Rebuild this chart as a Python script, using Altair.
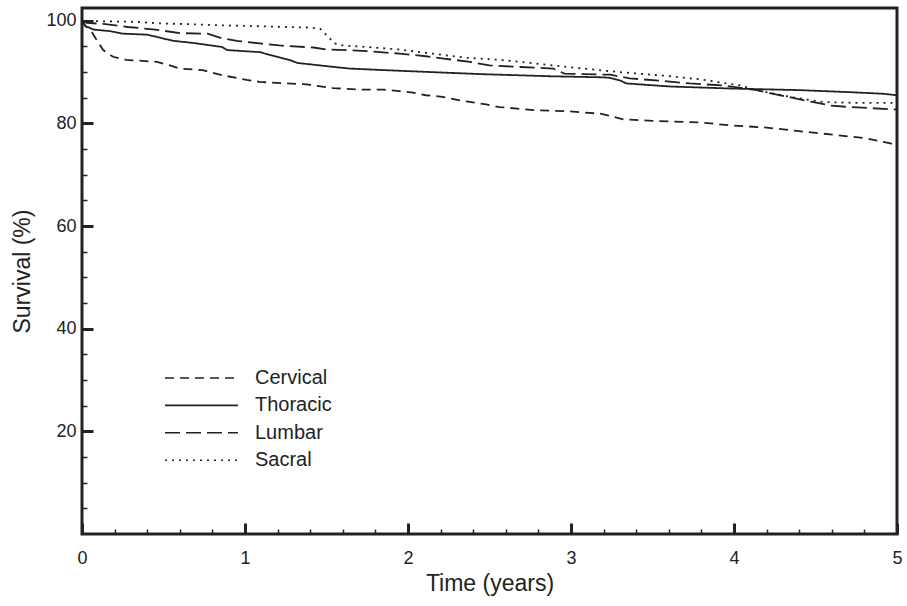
import altair as alt
import pandas as pd

# ---------------- data ----------------
series_names = ["Cervical", "Thoracic", "Lumbar", "Sacral"]

cervical_t = [0, 0.02, 0.06, 0.13, 0.19, 0.27, 0.46, 0.54, 0.60, 0.74, 0.86, 1.01, 1.09, 1.38,
              1.54, 1.71, 1.85, 1.95, 2.03, 2.11, 2.21, 2.32, 2.48, 2.56, 2.67, 2.77, 2.97,
              3.18, 3.26, 3.32, 3.50, 3.79, 3.99, 4.20, 4.40, 4.61, 4.81, 4.96, 5.0]
cervical_v = [100, 99.0, 97.8, 94.3, 93.0, 92.4, 92.0, 91.3, 90.7, 90.4, 89.4, 88.5, 88.1, 87.6,
              86.9, 86.6, 86.6, 86.3, 86.0, 85.5, 85.2, 84.5, 83.7, 83.2, 82.9, 82.6, 82.4,
              81.9, 81.3, 80.8, 80.5, 80.2, 79.6, 79.2, 78.5, 77.8, 77.1, 76.1, 75.8]

thoracic_t = [0, 0.02, 0.07, 0.17, 0.25, 0.40, 0.56, 0.68, 0.86, 0.89, 1.09, 1.28, 1.32, 1.52,
              1.64, 1.85, 2.15, 2.46, 2.67, 2.87, 3.18, 3.24, 3.30, 3.34, 3.61, 3.99, 4.40,
              4.71, 4.91, 5.0]
thoracic_v = [100, 99.0, 98.3, 98.0, 97.5, 97.3, 96.1, 95.7, 94.9, 94.3, 93.9, 92.3, 91.8, 91.1,
              90.7, 90.4, 90.0, 89.6, 89.4, 89.2, 89.0, 88.9, 88.4, 87.8, 87.2, 86.8, 86.5,
              86.1, 85.8, 85.5]

lumbar_t = [0, 0.03, 0.13, 0.28, 0.45, 0.60, 0.77, 0.85, 0.95, 1.09, 1.21, 1.42, 1.50, 1.63,
            1.75, 1.83, 1.95, 2.11, 2.23, 2.38, 2.50, 2.69, 2.89, 2.96, 3.24, 3.36, 3.59,
            3.73, 3.93, 4.14, 4.22, 4.39, 4.48, 4.59, 4.71, 4.83, 5.0]
lumbar_v = [100, 99.6, 99.4, 98.8, 98.3, 97.6, 97.5, 96.7, 96.1, 95.6, 95.2, 94.8, 94.4, 94.3,
            94.1, 93.9, 93.6, 93.1, 92.6, 92.0, 91.3, 91.0, 90.7, 89.7, 89.5, 88.8, 88.2,
            87.8, 87.4, 86.5, 85.9, 84.8, 84.2, 83.5, 83.2, 83.0, 82.7]

sacral_t = [0, 0.13, 0.33, 0.48, 0.60, 0.89, 1.01, 1.38, 1.46, 1.50, 1.55, 1.60, 1.75, 1.95,
            2.15, 2.36, 2.56, 2.75, 2.98, 3.30, 3.61, 3.79, 4.04, 4.14, 4.34, 4.54, 4.75, 5.0]
sacral_v = [100, 99.9, 99.8, 99.5, 99.4, 99.1, 99.0, 98.7, 98.5, 97.2, 95.6, 95.2, 94.9, 94.4,
            93.6, 92.8, 92.4, 91.8, 91.0, 90.0, 89.2, 88.6, 87.4, 86.5, 85.2, 84.2, 84.0, 84.0]

x_major_ticks = [0, 1, 2, 3, 4, 5]
x_minor_ticks = [0.2, 0.4, 0.6, 0.8, 1.2, 1.4, 1.6, 1.8, 2.2, 2.4, 2.6, 2.8,
                 3.2, 3.4, 3.6, 3.8, 4.2, 4.4, 4.6, 4.8]
y_major_ticks = [20, 40, 60, 80, 100]
y_minor_ticks = [5, 10, 15, 25, 30, 35, 45, 50, 55, 65, 70, 75, 85, 90, 95]

# ---------------- table ----------------
rows = []
for name, ts, vs in [("Cervical", cervical_t, cervical_v), ("Thoracic", thoracic_t, thoracic_v),
                     ("Lumbar", lumbar_t, lumbar_v), ("Sacral", sacral_t, sacral_v)]:
    for t, v in zip(ts, vs):
        rows.append({"group": name, "time": t, "survival": v})
df = pd.DataFrame(rows)

# ---------------- styling ----------------
FONT = "Liberation Sans"
INK = "#222222"
dashes = [[9, 6], [1, 0], [15, 6], [2, 5]]

x_scale = alt.Scale(domain=[0, 5], nice=False, zero=False)
y_scale = alt.Scale(domain=[0, 102.5], nice=False)

main = alt.Chart(df).mark_line(strokeWidth=1.8, color=INK).encode(
    x=alt.X("time:Q", scale=x_scale,
            axis=alt.Axis(orient="bottom", values=x_major_ticks, format="d",
                          tickSize=11, offset=-11, tickWidth=3, tickColor=INK,
                          domain=False, grid=False, labelPadding=15, labelFontSize=18,
                          labelFlush=False, labelFont=FONT, labelColor=INK,
                          title="Time (years)",
                          titleFont=FONT, titleFontSize=23, titleFontWeight="normal",
                          titleColor=INK, titlePadding=5)),
    y=alt.Y("survival:Q", scale=y_scale,
            axis=alt.Axis(orient="left", values=y_major_ticks, format="d",
                          tickSize=11, offset=-11, tickWidth=3, tickColor=INK,
                          domain=False, grid=False, labelPadding=6, labelFontSize=18,
                          labelFlush=False, labelFont=FONT, labelColor=INK,
                          title="Survival (%)",
                          titleFont=FONT, titleFontSize=23, titleFontWeight="normal",
                          titleColor=INK, titlePadding=11)),
    strokeDash=alt.StrokeDash(
        "group:N",
        scale=alt.Scale(domain=series_names, range=dashes),
        legend=alt.Legend(title=None, orient="none", legendX=82, legendY=360,
                          direction="vertical", symbolType="stroke", symbolSize=5329,
                          symbolStrokeWidth=1.6, symbolStrokeColor=INK,
                          clipHeight=20, rowPadding=7.4, labelFont=FONT,
                          labelFontSize=20, labelColor=INK, labelOffset=16, padding=0,
                          labelLimit=200)),
)

minor = alt.Chart(df).mark_line(opacity=0).encode(
    x=alt.X("time:Q", scale=x_scale,
            axis=alt.Axis(orient="bottom", values=x_minor_ticks, tickSize=5, offset=-5,
                          tickWidth=1.5, tickColor=INK, labels=False, domain=False,
                          grid=False, title=None)),
    y=alt.Y("survival:Q", scale=y_scale,
            axis=alt.Axis(orient="left", values=y_minor_ticks, tickSize=5, offset=-5,
                          tickWidth=1.5, tickColor=INK, labels=False, domain=False,
                          grid=False, title=None)),
    detail="group:N",
)

chart = alt.layer(main, minor).resolve_axis(x="independent", y="independent").properties(
    width=815, height=526,
    autosize=alt.AutoSizeParams(type="none"),
    padding={"left": 82, "top": 8, "right": 10, "bottom": 72},
    background="white",
).configure_view(stroke=INK, strokeWidth=3)

chart.save("out.html", embed_options={"renderer": "svg", "actions": False})
